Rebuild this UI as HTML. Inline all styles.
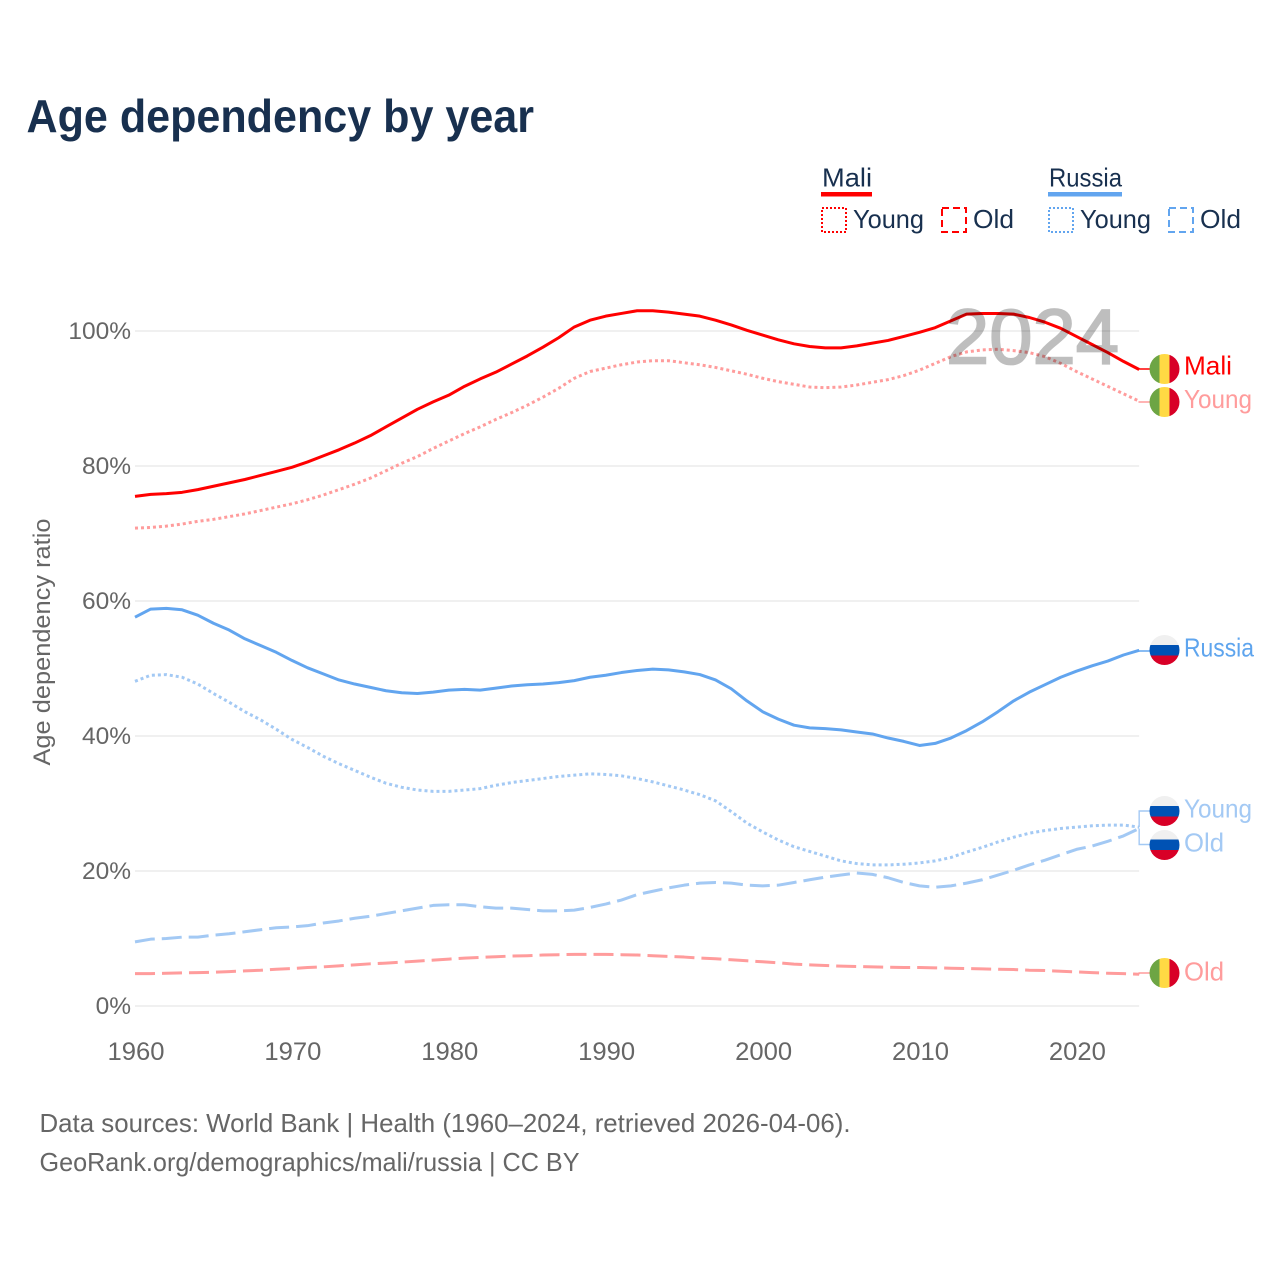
<!DOCTYPE html>
<html lang="en">
<head>
<meta charset="utf-8">
<title>Age dependency by year</title>
<style>
html,body{margin:0;padding:0;background:#fff;}
svg{display:block;font-family:"Liberation Sans",sans-serif;}
</style>
</head>
<body>
<svg id="chart" width="1280" height="1280" viewBox="0 0 1280 1280" xmlns="http://www.w3.org/2000/svg">
  <rect width="1280" height="1280" fill="#fff"/>
  <defs>
    <clipPath id="flag-a"><circle cx="1164.5" cy="369" r="15"/></clipPath>
    <clipPath id="flag-b"><circle cx="1164.5" cy="402" r="15"/></clipPath>
    <clipPath id="flag-c"><circle cx="1164.5" cy="973" r="15"/></clipPath>
    <clipPath id="flag-d"><circle cx="1164.5" cy="650" r="15"/></clipPath>
    <clipPath id="flag-e"><circle cx="1164.5" cy="811" r="15"/></clipPath>
    <clipPath id="flag-f"><circle cx="1164.5" cy="845" r="15"/></clipPath>
  </defs>
  <text x="26.5" y="132" font-size="46" font-weight="700" fill="#18304f" textLength="507.5" lengthAdjust="spacingAndGlyphs">Age dependency by year</text>

  <g font-size="26" fill="#18304f">
    <text x="822" y="186.5" textLength="50" lengthAdjust="spacingAndGlyphs">Mali</text>
    <rect x="821" y="192" width="51" height="4.5" fill="#ff0000"/>
    <rect x="822" y="208" width="24" height="24" fill="none" stroke="#ff0000" stroke-width="2" stroke-dasharray="2 2"/>
    <text x="853" y="228" textLength="71" lengthAdjust="spacingAndGlyphs">Young</text>
    <rect x="942" y="208" width="24" height="24" fill="none" stroke="#ff0000" stroke-width="2" stroke-dasharray="7 4"/>
    <text x="973" y="228" textLength="41" lengthAdjust="spacingAndGlyphs">Old</text>
    <text x="1049" y="186.5" textLength="73" lengthAdjust="spacingAndGlyphs">Russia</text>
    <rect x="1048" y="192" width="74" height="4.5" fill="#62a5ef"/>
    <rect x="1049" y="208" width="24" height="24" fill="none" stroke="#62a5ef" stroke-width="2" stroke-dasharray="2 2"/>
    <text x="1080" y="228" textLength="71" lengthAdjust="spacingAndGlyphs">Young</text>
    <rect x="1169" y="208" width="24" height="24" fill="none" stroke="#62a5ef" stroke-width="2" stroke-dasharray="7 4"/>
    <text x="1200" y="228" textLength="41" lengthAdjust="spacingAndGlyphs">Old</text>
  </g>

  <g id="grid"></g>
  <g id="ticks" font-size="24.5" fill="#666"></g>
  <text transform="translate(50,642) rotate(-90)" text-anchor="middle" font-size="24" fill="#666" textLength="247" lengthAdjust="spacingAndGlyphs">Age dependency ratio</text>

  <g id="connectors"></g>
  <g id="series"></g>

  <g opacity="0.25">
    <text x="946" y="363.5" font-size="78" fill="#000" stroke="#000" stroke-width="1.8" textLength="173" lengthAdjust="spacingAndGlyphs">2024</text>
  </g>

  <g clip-path="url(#flag-a)">
    <rect x="1149" y="353" width="10.5" height="32" fill="#6da544"/><rect x="1159.5" y="353" width="10" height="32" fill="#ffda44"/><rect x="1169.5" y="353" width="11" height="32" fill="#d80027"/>
  </g>
  <g clip-path="url(#flag-b)">
    <rect x="1149" y="386" width="10.5" height="32" fill="#6da544"/><rect x="1159.5" y="386" width="10" height="32" fill="#ffda44"/><rect x="1169.5" y="386" width="11" height="32" fill="#d80027"/>
  </g>
  <g clip-path="url(#flag-c)">
    <rect x="1149" y="957" width="10.5" height="32" fill="#6da544"/><rect x="1159.5" y="957" width="10" height="32" fill="#ffda44"/><rect x="1169.5" y="957" width="11" height="32" fill="#d80027"/>
  </g>
  <g clip-path="url(#flag-d)">
    <rect x="1149" y="634" width="32" height="11" fill="#f0f0f0"/><rect x="1149" y="645" width="32" height="10.5" fill="#0052b4"/><rect x="1149" y="655.5" width="32" height="11" fill="#d80027"/>
  </g>
  <g clip-path="url(#flag-e)">
    <rect x="1149" y="795" width="32" height="11" fill="#f0f0f0"/><rect x="1149" y="806" width="32" height="10.5" fill="#0052b4"/><rect x="1149" y="816.5" width="32" height="11" fill="#d80027"/>
  </g>
  <g clip-path="url(#flag-f)">
    <rect x="1149" y="829" width="32" height="10.5" fill="#f0f0f0"/><rect x="1149" y="839.5" width="32" height="10.5" fill="#0052b4"/><rect x="1149" y="850" width="32" height="11" fill="#d80027"/>
  </g>

  <g font-size="26">
    <text x="1184" y="374.5" fill="#ff0000" textLength="48" lengthAdjust="spacingAndGlyphs">Mali</text>
    <text x="1184" y="408" fill="#ff9c9c" textLength="68" lengthAdjust="spacingAndGlyphs">Young</text>
    <text x="1184" y="656.5" fill="#5fa5ee" textLength="70" lengthAdjust="spacingAndGlyphs">Russia</text>
    <text x="1184" y="817.5" fill="#a3c9f4" textLength="68" lengthAdjust="spacingAndGlyphs">Young</text>
    <text x="1184" y="851.5" fill="#a3c9f4" textLength="40" lengthAdjust="spacingAndGlyphs">Old</text>
    <text x="1184" y="980.5" fill="#ff9c9c" textLength="40" lengthAdjust="spacingAndGlyphs">Old</text>
  </g>

  <g font-size="26" fill="#666">
    <text x="39.5" y="1132" textLength="811" lengthAdjust="spacingAndGlyphs">Data sources: World Bank | Health (1960–2024, retrieved 2026-04-06).</text>
    <text x="39.5" y="1171" textLength="540" lengthAdjust="spacingAndGlyphs">GeoRank.org/demographics/mali/russia | CC BY</text>
  </g>
</svg>
<script>
const startYear = 1960;
const xTickYears = [1960, 1970, 1980, 1990, 2000, 2010, 2020];
const yTickValues = [0, 20, 40, 60, 80, 100];

const maliTotal = [
  75.5,75.8,75.9,76.1,76.5,77.0,77.5,78.0,78.6,79.2,
  79.8,80.6,81.5,82.4,83.4,84.5,85.8,87.1,88.4,89.5,
  90.5,91.8,92.9,93.9,95.1,96.3,97.6,99.0,100.6,101.6,
  102.2,102.6,103,103,102.8,102.5,102.2,101.6,100.9,100.1,
  99.4,98.7,98.1,97.7,97.5,97.5,97.8,98.2,98.6,99.2,
  99.8,100.5,101.5,102.5,102.6,102.6,102.5,102,101.3,100.4,
  99.2,98,96.8,95.5,94.3
];
const maliYoung = [
  70.8,70.9,71.1,71.4,71.8,72.1,72.5,72.9,73.4,73.9,
  74.4,75,75.7,76.5,77.3,78.2,79.3,80.4,81.4,82.6,
  83.7,84.8,85.8,86.9,87.9,89,90.2,91.5,93,94,
  94.5,95,95.4,95.6,95.6,95.3,95,94.6,94.1,93.6,
  93,92.5,92.1,91.7,91.6,91.7,92,92.4,92.8,93.4,
  94.2,95.2,96.2,96.9,97.2,97.3,97.1,96.8,96.2,95.2,
  94,92.9,91.8,90.7,89.6
];
const maliOld = [
  4.8,4.8,4.85,4.9,4.95,5.0,5.1,5.2,5.3,5.45,
  5.55,5.7,5.8,5.95,6.1,6.25,6.35,6.5,6.65,6.8,
  6.95,7.1,7.2,7.3,7.4,7.45,7.55,7.6,7.65,7.65,
  7.65,7.6,7.55,7.45,7.35,7.25,7.1,7.0,6.85,6.7,
  6.55,6.4,6.2,6.1,6.0,5.9,5.85,5.8,5.75,5.7,
  5.7,5.65,5.6,5.55,5.5,5.45,5.4,5.3,5.25,5.15,
  5.05,4.95,4.85,4.8,4.7
];
const russiaTotal = [
  57.6,58.8,58.9,58.7,57.9,56.7,55.7,54.4,53.4,52.4,
  51.2,50.1,49.2,48.3,47.7,47.2,46.7,46.4,46.3,46.5,
  46.8,46.9,46.8,47.1,47.4,47.6,47.7,47.9,48.2,48.7,
  49,49.4,49.7,49.9,49.8,49.5,49.1,48.3,47,45.2,
  43.6,42.5,41.6,41.2,41.1,40.9,40.6,40.3,39.7,39.2,
  38.6,38.9,39.7,40.8,42.1,43.6,45.2,46.5,47.6,48.7,
  49.6,50.4,51.1,52,52.7
];
const russiaYoung = [
  48.1,49,49.1,48.7,47.7,46.3,45,43.6,42.4,41,
  39.5,38.3,37,35.9,34.9,33.9,33,32.4,32,31.8,
  31.8,32,32.2,32.7,33.1,33.4,33.7,34,34.2,34.4,
  34.3,34.1,33.7,33.2,32.6,32,31.3,30.4,28.8,27.1,
  25.8,24.6,23.6,22.9,22.2,21.5,21.1,20.9,20.9,21,
  21.2,21.5,22,22.8,23.5,24.3,25,25.6,26,26.3,
  26.5,26.7,26.8,26.8,26.5
];
const russiaOld = [
  9.5,9.9,10,10.2,10.2,10.5,10.7,11,11.3,11.6,
  11.7,11.9,12.3,12.6,13,13.3,13.7,14.1,14.5,14.9,
  15,15,14.7,14.5,14.5,14.3,14.1,14.1,14.2,14.6,
  15.1,15.7,16.5,17,17.5,17.9,18.2,18.3,18.2,17.9,
  17.8,17.9,18.3,18.7,19.1,19.4,19.7,19.5,19,18.3,
  17.8,17.6,17.8,18.2,18.7,19.4,20.1,20.9,21.6,22.4,
  23.2,23.7,24.4,25.2,26.3
];

const SVG_NS = "http://www.w3.org/2000/svg";
function xScale(year) { return 135 + (year - startYear) * 15.69; }
function yScale(value) { return 1006 - value * 6.75; }
function make(tag, attrs, parent) {
  const el = document.createElementNS(SVG_NS, tag);
  for (const k in attrs) el.setAttribute(k, attrs[k]);
  parent.appendChild(el);
  return el;
}
function linePoints(values) {
  return values.map(function (v, i) {
    return xScale(startYear + i).toFixed(2) + "," + yScale(v).toFixed(2);
  }).join(" ");
}

const gridGroup = document.getElementById("grid");
const tickGroup = document.getElementById("ticks");
const seriesGroup = document.getElementById("series");
const connectorGroup = document.getElementById("connectors");
const lastYear = startYear + maliTotal.length - 1;

yTickValues.forEach(function (v) {
  const line = make("line", {x1: xScale(startYear), x2: xScale(lastYear), y1: yScale(v), y2: yScale(v), stroke: "#ebebeb", "stroke-width": 1.6}, gridGroup);
  
  
  const label = make("text", {x: 131, y: yScale(v) + 8, "text-anchor": "end"}, tickGroup);
  label.textContent = v + "%";
  
  
});
xTickYears.forEach(function (year) {
  const label = make("text", {x: xScale(year) + 1, y: 1060, "text-anchor": "middle", "font-size": 25, textLength: 57, lengthAdjust: "spacingAndGlyphs"}, tickGroup);
  label.textContent = String(year);
  
  
});

function drawSeries(values, color, dash, name) {
  const attrs = {points: linePoints(values), fill: "none", stroke: color, "stroke-width": 3, "stroke-linejoin": "round"};
  if (dash) attrs["stroke-dasharray"] = dash;
  const line = make("polyline", attrs, seriesGroup);
  
  
}
drawSeries(russiaOld, "#a3c9f4", "20 7", "line-russia-old");
drawSeries(russiaYoung, "#a3c9f4", "3 3", "line-russia-young");
drawSeries(russiaTotal, "#62a5ef", null, "line-russia-total");
drawSeries(maliOld, "#ff9c9c", "20 7", "line-mali-old");
drawSeries(maliYoung, "#ff9c9c", "3 3", "line-mali-young");
drawSeries(maliTotal, "#ff0000", null, "line-mali-total");

function drawConnector(value, labelY, color, name) {
  const xEnd = xScale(lastYear);
  const yEnd = yScale(value);
  const path = make("path", {d: "M" + xEnd + " " + yEnd + " L" + xEnd + " " + labelY + " L1150 " + labelY, fill: "none", stroke: color, "stroke-width": 1.4}, connectorGroup);
  
  
}
drawConnector(maliTotal[maliTotal.length - 1], 369, "#ff0000", "connector-mali-total");
drawConnector(maliYoung[maliYoung.length - 1], 402, "#ff9c9c", "connector-mali-young");
drawConnector(maliOld[maliOld.length - 1], 973, "#ff9c9c", "connector-mali-old");
drawConnector(russiaTotal[russiaTotal.length - 1], 651, "#62a5ef", "connector-russia-total");
drawConnector(russiaYoung[russiaYoung.length - 1], 811, "#a3c9f4", "connector-russia-young");
drawConnector(russiaOld[russiaOld.length - 1], 844.5, "#a3c9f4", "connector-russia-old");
</script>
</body>
</html>
